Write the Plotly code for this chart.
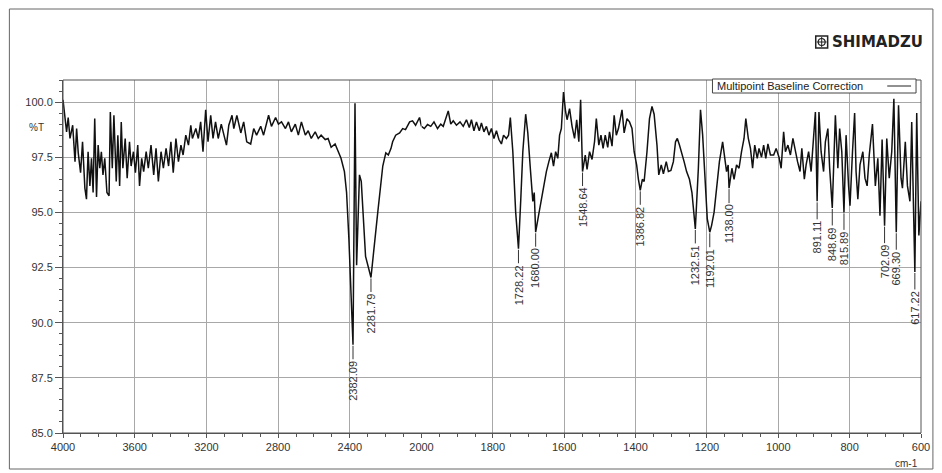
import plotly.graph_objects as go

# ---------------- data ----------------
wn_left = [4000, 3980, 3971, 3961, 3946, 3933, 3924, 3915, 3902, 3891, 3878, 3869, 3860, 3850, 3841,
           3832, 3823, 3813, 3804, 3795, 3786, 3777, 3767, 3755, 3743, 3736, 3725, 3716, 3703, 3694,
           3684, 3675, 3666, 3653, 3642, 3629, 3620, 3607, 3596, 3583, 3573, 3561, 3550, 3536, 3524,
           3509, 3494, 3481, 3468, 3453, 3440, 3425, 3411, 3398, 3385, 3370, 3356, 3342, 3330, 3315,
           3300, 3287, 3278, 3259, 3245, 3232, 3219, 3204, 3191, 3176, 3163, 3149, 3134, 3117, 3102,
           3088, 3075, 3057, 3047, 3030, 3008, 2992, 2975, 2953, 2936, 2920, 2897, 2881, 2853, 2837,
           2814, 2798, 2781, 2759, 2742, 2726, 2704, 2687, 2670, 2648, 2632, 2615, 2593, 2576, 2560,
           2537, 2521, 2504, 2482, 2465, 2449, 2430, 2418, 2405, 2394, 2382.09, 2376, 2371, 2362, 2346,
           2336, 2312, 2281.79, 2268, 2244, 2216, 2199, 2185, 2170, 2161, 2144, 2122, 2105, 2089, 2066,
           2050, 2033, 2011, 2000]
t_left = [100.1, 98.65, 99.3, 98.35, 98.95, 97.3, 98.8, 97.7, 96.8, 98.2, 96.1, 95.6, 97.75, 96.2, 97.45,
          95.9, 99.25, 95.7, 98.05, 97.0, 97.75, 96.7, 97.45, 95.9, 95.75, 99.55, 97.0, 99.4, 96.4, 98.5,
          96.2, 99.1, 97.0, 98.35, 96.55, 98.2, 97.1, 97.75, 96.8, 98.05, 96.2, 97.45, 96.85, 97.75, 97.0,
          98.05, 96.7, 97.9, 96.4, 97.75, 97.0, 97.9, 97.1, 98.2, 96.8, 98.35, 97.3, 98.05, 97.6, 98.5,
          98.05, 98.95, 98.35, 98.8, 98.35, 99.1, 97.75, 99.65, 98.2, 99.4, 98.35, 99.1, 98.35, 99.0, 98.5,
          98.05, 98.95, 99.4, 98.8, 99.4, 98.6, 99.1, 98.2, 98.1, 98.8, 98.5, 98.9, 98.5, 99.4, 98.9,
          99.3, 99.0, 99.1, 98.8, 99.1, 98.65, 99.0, 98.5, 99.1, 98.5, 98.7, 98.35, 98.65, 98.35, 98.5,
          98.3, 98.35, 97.95, 98.1, 97.75, 97.45, 96.85, 95.9, 93.8, 91.3, 89.0, 95.0, 99.95, 92.6, 96.7,
          96.4, 93.0, 92.05, 93.2, 95.0, 97.1, 97.7, 97.6, 97.9, 98.2, 98.5, 98.6, 98.8, 98.75, 99.1,
          99.15, 98.95, 99.3, 98.9]

wn_right = [2000, 1992, 1983, 1974, 1965, 1955, 1946, 1939, 1925, 1918, 1911, 1902, 1892, 1883, 1874,
            1866, 1860, 1853, 1846, 1838, 1832, 1825, 1818, 1811, 1804, 1797, 1790, 1783, 1776, 1770,
            1762, 1756, 1751, 1744, 1736, 1728.22, 1722, 1716, 1708, 1702, 1695, 1688, 1684, 1680.0, 1672,
            1665, 1658, 1650, 1643, 1636, 1630, 1624, 1618, 1613, 1608, 1602, 1596, 1592, 1585, 1578,
            1571, 1565, 1559, 1554, 1548.64, 1541, 1536, 1529, 1522, 1515, 1510, 1503, 1497, 1491, 1485,
            1478, 1473, 1466, 1460, 1454, 1448, 1438, 1432, 1424, 1417, 1410, 1404, 1397, 1392, 1386.82,
            1381, 1376, 1368, 1361, 1354, 1348, 1340, 1335, 1328, 1322, 1314, 1308, 1301, 1294, 1288,
            1283, 1277, 1271, 1264, 1257, 1249, 1242, 1236, 1232.51, 1224, 1218, 1212, 1205, 1199, 1192.01,
            1187, 1180, 1173, 1165, 1156, 1149, 1145, 1140.5, 1138.0, 1130, 1124, 1117, 1110, 1103, 1096,
            1091, 1084, 1078, 1072, 1066, 1059, 1054, 1047, 1041, 1035, 1029, 1022, 1013, 1006, 998,
            992, 985, 980, 973, 966, 959, 952, 946, 939, 934, 927, 922, 915, 908, 902,
            896, 891.11, 886, 880, 873, 868, 861, 856, 848.69, 840, 833, 828, 822, 815.89, 810,
            803, 799, 792, 786, 782, 777, 771, 763, 757, 751, 745, 736, 728, 721, 715,
            709, 702.09, 696, 689, 682, 676, 669.3, 663, 656, 652, 644, 638, 631, 626, 617.22,
            612, 606, 600]
t_right = [98.9, 98.8, 98.98, 98.9, 99.1, 98.8, 99.0, 98.9, 99.6, 99.0, 99.15, 98.95, 99.1, 98.9, 99.2,
           98.85, 99.2, 98.7, 99.1, 98.7, 99.05, 98.65, 98.9, 98.5, 98.8, 98.35, 98.7, 98.3, 98.1, 98.5,
           98.35, 98.5, 99.3, 97.75, 95.0, 93.35, 95.5, 97.75, 99.45, 98.6, 97.0, 95.5, 95.9, 94.1, 94.85,
           95.5, 96.2, 96.85, 97.3, 97.7, 97.1, 97.75, 97.45, 98.5, 98.8, 100.45, 99.55, 99.2, 99.7, 98.9,
           98.35, 99.2, 98.2, 100.1, 96.85, 97.6, 96.95, 97.75, 97.4, 98.2, 99.25, 98.05, 98.5, 97.9, 98.5,
           97.95, 98.65, 98.0, 99.4, 98.5, 98.8, 99.65, 98.6, 99.25, 99.1, 98.8, 97.75, 97.15, 96.5, 96.0,
           96.5, 96.4, 97.75, 99.25, 99.8, 99.45, 98.05, 96.7, 97.15, 96.75, 97.3, 96.85, 96.9, 97.3, 98.2,
           98.35, 98.05, 97.75, 97.3, 96.85, 96.5, 95.9, 95.0, 94.25, 97.0, 99.65, 98.5, 96.2, 94.7, 94.1,
           94.4, 95.0, 96.2, 97.3, 98.2, 97.45, 96.85, 97.15, 96.1, 97.0, 96.5, 97.15, 97.0, 97.75, 98.35,
           99.25, 98.35, 97.9, 97.0, 98.05, 97.45, 97.9, 97.5, 98.05, 97.45, 98.1, 97.6, 97.6, 97.9, 97.5,
           97.0, 98.65, 97.75, 98.05, 97.6, 98.35, 97.75, 97.3, 96.85, 97.9, 96.5, 97.15, 97.75, 96.85, 98.2,
           99.55, 95.5, 99.55, 97.75, 96.85, 98.2, 98.8, 97.0, 95.2, 99.4, 97.0, 98.8, 97.75, 95.0, 98.5,
           96.2, 95.3, 97.75, 99.5, 96.85, 95.6, 97.15, 97.75, 96.55, 96.2, 97.6, 99.0, 96.2, 97.45, 94.85,
           98.3, 94.4, 98.35, 96.55, 97.75, 100.15, 94.1, 99.85, 96.55, 96.1, 98.2, 96.2, 95.5, 99.1, 92.3,
           99.5, 93.95, 95.5]

peak_labels = [2382.09, 2281.79, 1728.22, 1680.00, 1548.64, 1386.82, 1232.51, 1192.01, 1138.00,
               891.11, 848.69, 815.89, 702.09, 669.30, 617.22]

x_ticks_left = [4000, 3600, 3200, 2800, 2400]
x_ticks_right = [2000, 1800, 1600, 1400, 1200, 1000, 800, 600]
y_ticks = [85.0, 87.5, 90.0, 92.5, 95.0, 97.5, 100.0]

# ---------------- figure ----------------
W, H = 942, 473
L, R, T, B = 63, 15, 80, 40
PW, PH = W - L - R, H - T - B
split = (424 - L) / PW


def px(xp):
    return (xp - L) / PW


def py(yp):
    return (H - B - yp) / PH


FONT = "Liberation Sans Narrow, Liberation Sans, Arial, sans-serif"
TXT = "#333333"
GRID = "#a8a8a8"
line_style = dict(color="#111111", width=1.5)

fig = go.Figure()
fig.add_trace(go.Scatter(x=wn_left, y=t_left, xaxis="x", yaxis="y", mode="lines",
                         line=line_style, showlegend=False, hoverinfo="x+y"))
fig.add_trace(go.Scatter(x=wn_right, y=t_right, xaxis="x2", yaxis="y", mode="lines",
                         line=line_style, showlegend=False, hoverinfo="x+y"))

axis_common = dict(showgrid=True, gridcolor=GRID, gridwidth=1, zeroline=False,
                   showline=True, linecolor="#555555", linewidth=1,
                   ticks="outside", ticklen=4, tickcolor="#555555",
                   tickfont=dict(family=FONT, size=11, color=TXT))

fig.update_layout(
    width=W, height=H,
    margin=dict(l=L, r=R, t=T, b=B, pad=0),
    paper_bgcolor="white", plot_bgcolor="white",
    font=dict(family=FONT, size=11, color=TXT),
    xaxis=dict(domain=[0, split], range=[4000, 2000], tickmode="array", tickvals=x_ticks_left,
               ticktext=[str(v) for v in x_ticks_left], anchor="y",
               minor=dict(tickmode="linear", tick0=2000, dtick=100, ticklen=3, ticks="outside",
                          tickcolor="#555555", showgrid=False),
               **axis_common),
    xaxis2=dict(domain=[split, 1], range=[2000, 600], tickmode="array", tickvals=x_ticks_right,
                ticktext=[str(v) for v in x_ticks_right], anchor="y",
                minor=dict(tickmode="linear", tick0=600, dtick=50, ticklen=3, ticks="outside",
                           tickcolor="#555555", showgrid=False),
                **axis_common),
    yaxis=dict(domain=[0, 1], range=[85, 101.0], tickmode="array", tickvals=y_ticks,
               ticktext=[f"{v:.1f}" for v in y_ticks], anchor="x",
               minor=dict(tickmode="linear", tick0=85, dtick=0.5, ticklen=3, ticks="outside",
                          tickcolor="#555555", showgrid=False),
               **{**axis_common, "ticklen": 7}),
    showlegend=False,
)

shapes = []
# plot frame
shapes.append(dict(type="rect", xref="paper", yref="paper", x0=0, x1=1, y0=0, y1=1,
                   line=dict(color="#555555", width=1), layer="above"))
# page border
shapes.append(dict(type="rect", xref="paper", yref="paper", x0=px(9), x1=px(939), y0=py(469), y1=py(9),
                   line=dict(color="#666666", width=1), layer="below"))
# legend box
shapes.append(dict(type="rect", xref="paper", yref="paper", x0=px(717), x1=px(922), y0=py(93), y1=py(79),
                   line=dict(color="#444444", width=1), fillcolor="white", layer="above"))
shapes.append(dict(type="line", xref="paper", yref="paper", x0=px(893), x1=px(917), y0=py(86), y1=py(86),
                   line=dict(color="#222222", width=1), layer="above"))
# SHIMADZU logo icon
shapes.append(dict(type="rect", xref="paper", yref="paper", x0=px(821), x1=px(833), y0=py(48), y1=py(36),
                   line=dict(color="#222222", width=1.5), layer="above"))
shapes.append(dict(type="circle", xref="paper", yref="paper", x0=px(823.5), x1=px(830.5), y0=py(45.5), y1=py(38.5),
                   line=dict(color="#222222", width=1.2), layer="above"))
shapes.append(dict(type="line", xref="paper", yref="paper", x0=px(827), x1=px(827), y0=py(47), y1=py(37),
                   line=dict(color="#222222", width=1), layer="above"))
shapes.append(dict(type="line", xref="paper", yref="paper", x0=px(822), x1=px(832), y0=py(42), y1=py(42),
                   line=dict(color="#222222", width=1), layer="above"))

annotations = []
annotations.append(dict(xref="paper", yref="paper", x=px(720), y=py(86), xanchor="left", yanchor="middle",
                        text="Multipoint Baseline Correction", showarrow=False,
                        font=dict(family=FONT, size=11, color="#222222")))
annotations.append(dict(xref="paper", yref="paper", x=px(835), y=py(42), xanchor="left", yanchor="middle",
                        text="<b>SHIMADZU</b>", showarrow=False,
                        font=dict(family="DejaVu Sans, Liberation Sans", size=15, color="#222222")))
annotations.append(dict(xref="paper", yref="paper", x=px(36), y=py(127), xanchor="center", yanchor="middle",
                        text="%T", showarrow=False, font=dict(family=FONT, size=10, color=TXT)))
annotations.append(dict(xref="paper", yref="paper", x=px(912), y=py(463), xanchor="center", yanchor="middle",
                        text="cm-1", showarrow=False, font=dict(family=FONT, size=10, color=TXT)))

lookup = dict(zip(wn_left, t_left))
lookup.update(dict(zip(wn_right, t_right)))
for wn in peak_labels:
    xa = "x" if wn > 2000 else "x2"
    annotations.append(dict(xref=xa, yref="y", x=wn, y=lookup[wn], text=f"{wn:.2f}",
                            textangle=-90, showarrow=True, arrowhead=0, arrowwidth=1,
                            arrowcolor="#333333", ax=0, ay=36, standoff=1,
                            font=dict(family=FONT, size=11, color=TXT)))

fig.update_layout(shapes=shapes, annotations=annotations)
fig.write_html("out.html")
